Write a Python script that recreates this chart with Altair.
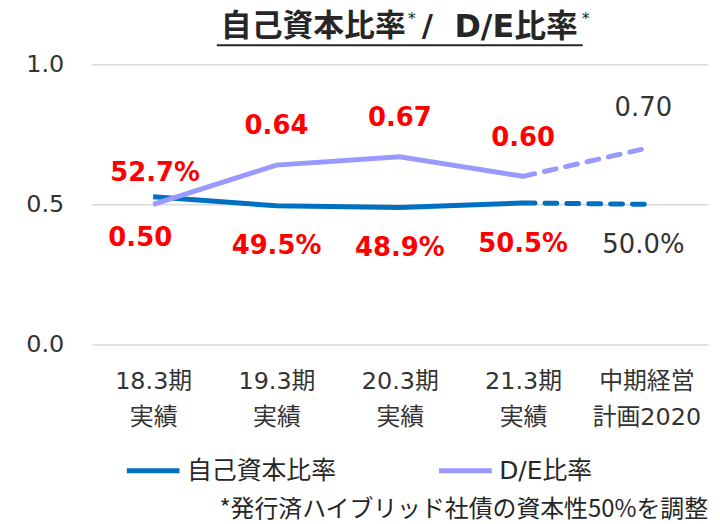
import altair as alt
import pandas as pd

categories = ["18.3期|実績", "19.3期|実績", "20.3期|実績", "21.3期|実績", "中期経営|計画2020"]
equity_ratio_pct = [52.7, 49.5, 48.9, 50.5, 50.0]
de_ratio = [0.50, 0.64, 0.67, 0.60, 0.70]
series_names = ["自己資本比率", "D/E比率"]
colors = ["#0070C0", "#9999FF"]
title_main = "自己資本比率"
title_slash = "/"
title_second = "D/E比率"
footnote = "*発行済ハイブリッド社債の資本性50%を調整"

FONT = "DejaVu Sans, Noto Sans CJK JP"
CJK = "Noto Sans CJK JP, DejaVu Sans"
TXT = "#333333"

rows = []
for i, c in enumerate(categories):
    rows.append({"cat": c, "idx": i, "series": series_names[0],
                 "value": equity_ratio_pct[i] / 100, "label": f"{equity_ratio_pct[i]:.1f}%"})
    rows.append({"cat": c, "idx": i, "series": series_names[1],
                 "value": de_ratio[i], "label": f"{de_ratio[i]:.2f}"})
df = pd.DataFrame(rows)

x_enc = alt.X("cat:N", sort=categories,
              scale=alt.Scale(type="point", padding=0.5),
              axis=alt.Axis(title=None, labelExpr="split(datum.label, '|')",
                            labelFontSize=24, labelFont=FONT, labelColor=TXT,
                            labelLineHeight=36, labelPadding=25, labelAngle=0,
                            domain=False, ticks=False, grid=False))
y_enc = alt.Y("value:Q", scale=alt.Scale(domain=[0, 1], nice=False),
              axis=alt.Axis(title=None, values=[0, 0.5, 1], format=".1f",
                            labelFontSize=24, labelFont=FONT, labelColor=TXT,
                            labelPadding=28, domain=False, ticks=False,
                            gridColor="#D9D9D9", gridWidth=1.5))
color_enc = alt.Color("series:N", sort=series_names,
                      scale=alt.Scale(domain=series_names, range=colors),
                      legend=alt.Legend(title=None, orient="none", legendX=33, legendY=380,
                                        direction="horizontal", symbolType="stroke",
                                        symbolStrokeWidth=5, symbolSize=2809,
                                        labelFontSize=25, labelFont=FONT, labelColor="#262626",
                                        labelOffset=5, columnPadding=92, labelLimit=400))

base = alt.Chart(df)

solid = base.mark_line(strokeWidth=5).encode(
    x=x_enc, y=y_enc, color=color_enc
).transform_filter("datum.idx <= 3")

dashed = base.mark_line(strokeWidth=5, strokeDash=[12, 10], strokeCap="round").encode(
    x=x_enc, y=y_enc, color=alt.Color("series:N", sort=series_names,
                                      scale=alt.Scale(domain=series_names, range=colors),
                                      legend=None)
).transform_filter("datum.idx >= 3")


def labels(filt, dx, dy, color, weight):
    return base.mark_text(font=FONT, fontSize=26, fontWeight=weight, color=color,
                          dx=dx, dy=dy, baseline="middle").encode(
        x=alt.X("cat:N", sort=categories), y="value:Q", text="label:N"
    ).transform_filter(filt)


RED = "#FF0000"
GRAY = TXT
lbls = [
    labels(f"datum.series == '{series_names[0]}' && datum.idx == 0", 2, -24, RED, "bold"),
    labels(f"datum.series == '{series_names[0]}' && datum.idx >= 1 && datum.idx <= 3", 0, 41, RED, "bold"),
    labels(f"datum.series == '{series_names[0]}' && datum.idx == 4", -3, 41, GRAY, "normal"),
    labels(f"datum.series == '{series_names[1]}' && datum.idx == 0", -13, 34, RED, "bold"),
    labels(f"datum.series == '{series_names[1]}' && datum.idx >= 1 && datum.idx <= 3", 0, -39, RED, "bold"),
    labels(f"datum.series == '{series_names[1]}' && datum.idx == 4", -3, -40, GRAY, "normal"),
]

one = alt.Data(values=[{}])


def title_text(txt, x, y, align, size=31, weight="bold"):
    return alt.Chart(one).mark_text(font=FONT, fontSize=size, fontWeight=weight, color="#262626",
                                    align=align, baseline="middle").encode(
        x=alt.value(x), y=alt.value(y), text=alt.value(txt))


t1 = title_text(title_main, 316, -37, "right")
a1 = title_text("*", 322, -45, "center", 16, "normal")
t_sl = title_text(title_slash, 332, -37, "left")
t2 = title_text(title_second, 489, -37, "right", 32)
a2 = title_text("*", 497, -45, "center", 16, "normal")
uline = alt.Chart(one).mark_rule(color="#262626", strokeWidth=2).encode(
    x=alt.value(126), x2=alt.value(494), y=alt.value(-19))
foot = alt.Chart(one).mark_text(font=CJK, fontSize=24, color="#262626",
                                align="right", baseline="middle").encode(
    x=alt.value(620), y=alt.value(448), text=alt.value(footnote))

chart = alt.layer(solid, dashed, *lbls, t1, a1, t_sl, t2, a2, uline, foot).properties(
    width=620, height=282,
    autosize=alt.AutoSizeParams(type="none"),
    padding={"left": 84, "top": 55, "right": 4, "bottom": 185},
    background="white",
).configure_view(stroke=None)

chart.save("out.html", embed_options={"renderer": "svg", "actions": False})
